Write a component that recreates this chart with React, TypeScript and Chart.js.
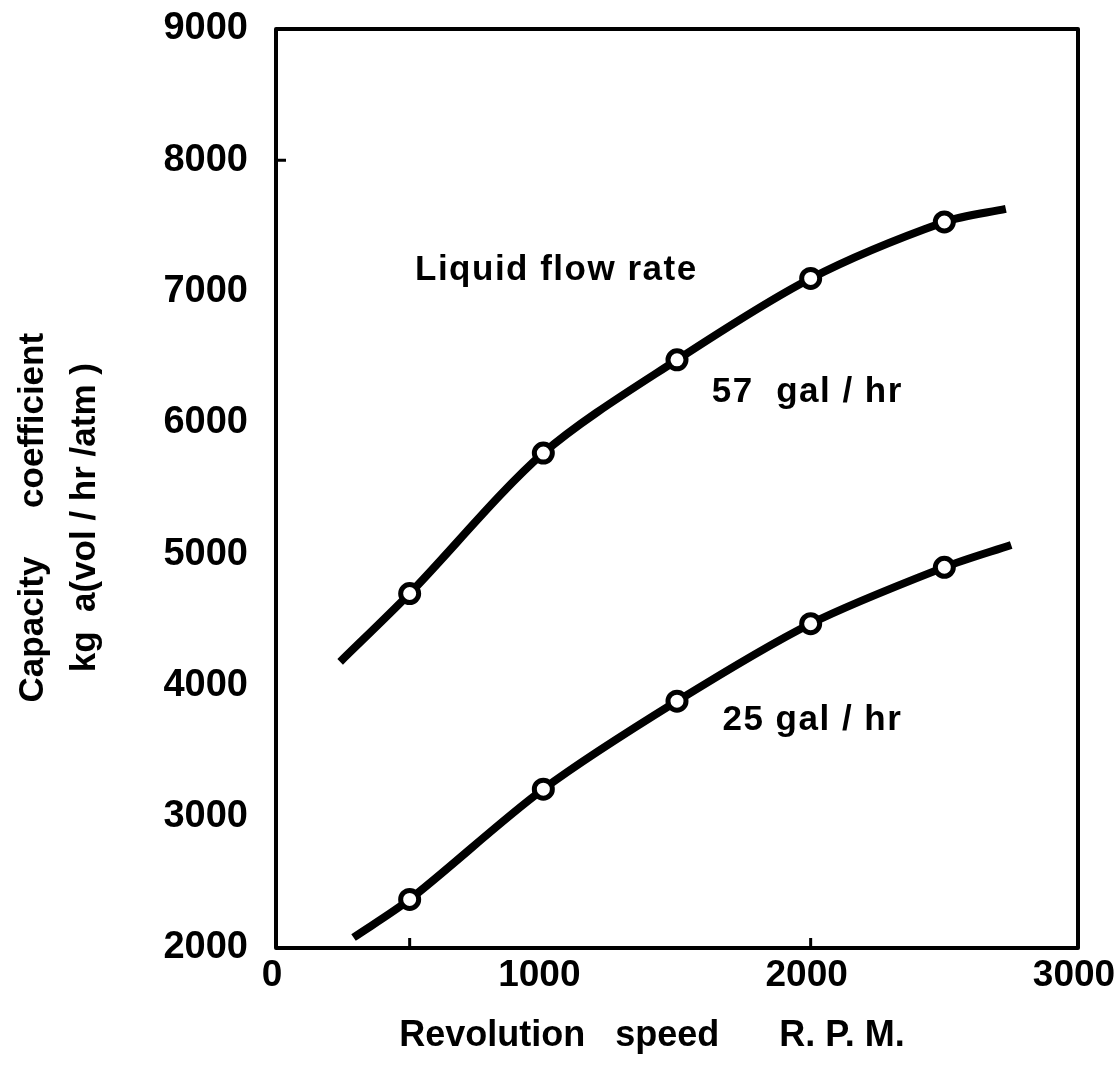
import { useEffect, useRef } from "react";
import { Chart, registerables } from "chart.js";

Chart.register(...registerables);

const FONT = "'Liberation Sans', Arial, sans-serif";

// measured points (RPM vs capacity coefficient)
const rpm = [500, 1000, 1500, 2000, 2500];
const capacity57 = [4700, 5770, 6480, 7100, 7530];
const capacity25 = [2370, 3210, 3880, 4470, 4900];

// ends of the drawn smooth curves [rpm, capacity]
const curve57Start = [240, 4180];
const curve57End = [2730, 7630];
const curve25Start = [290, 2080];
const curve25End = [2750, 5070];

const xTicks = [0, 1000, 2000, 3000];
const yTicks = [2000, 3000, 4000, 5000, 6000, 7000, 8000, 9000];

// small inward tick marks visible on the frame
const xMarks = [500, 2000];
const yMarks = [8000];

const labelTexts = ["Liquid flow rate", "57  gal / hr", "25 gal / hr"];
const labelRpm = [520, 1630, 1670];
const labelCap = [7160, 6235, 3736];

const xTitle = "Revolution   speed      R. P. M.     ";
const yTitle = ["Capacity     coefficient      ", "kg  a(vol / hr /atm )      "];

const toPts = (xs: number[], ys: number[]) => xs.map((x, i) => ({ x, y: ys[i] }));
const curve = (s: number[], xs: number[], ys: number[], e: number[]) => [
  { x: s[0], y: s[1] },
  ...toPts(xs, ys),
  { x: e[0], y: e[1] },
];

const overlay = {
  id: "overlay",
  beforeDatasetsDraw(chart: any) {
    const { ctx, chartArea: a, scales } = chart;
    const x = scales.x;
    const y = scales.y;
    ctx.save();
    ctx.strokeStyle = "#000";
    ctx.lineWidth = 4;
    ctx.lineJoin = "round";
    ctx.strokeRect(a.left, a.top, a.right - a.left, a.bottom - a.top);
    ctx.lineWidth = 3;
    ctx.beginPath();
    xMarks.forEach((v) => {
      const px = x.getPixelForValue(v);
      ctx.moveTo(px, a.bottom);
      ctx.lineTo(px, a.bottom - 10);
    });
    yMarks.forEach((v) => {
      const py = y.getPixelForValue(v);
      ctx.moveTo(a.left, py);
      ctx.lineTo(a.left + 10, py);
    });
    ctx.stroke();
    ctx.restore();
  },
  afterDatasetsDraw(chart: any) {
    const { ctx, scales } = chart;
    ctx.save();
    ctx.fillStyle = "#000";
    ctx.font = `bold 35px ${FONT}`;
    (ctx as any).letterSpacing = "1.5px";
    ctx.textAlign = "left";
    ctx.textBaseline = "middle";
    labelTexts.forEach((t, i) => {
      ctx.fillText(t, scales.x.getPixelForValue(labelRpm[i]), scales.y.getPixelForValue(labelCap[i]));
    });
    ctx.restore();
  },
};

const plainTick = (v: any) => String(v);

export default function App() {
  const ref = useRef<HTMLCanvasElement | null>(null);

  useEffect(() => {
    if (!ref.current) return;
    const lineBase = {
      borderColor: "#000",
      borderWidth: 8,
      pointRadius: 0,
      tension: 0.3,
      fill: false,
      order: 2,
    };
    const markerBase = {
      showLine: false,
      pointRadius: 9,
      pointBorderWidth: 5,
      pointBackgroundColor: "#fff",
      pointBorderColor: "#000",
      borderColor: "#000",
      backgroundColor: "#fff",
      order: 1,
    };
    const chart = new Chart(ref.current, {
      type: "line",
      data: {
        datasets: [
          { ...lineBase, label: "57 gal/hr curve", data: curve(curve57Start, rpm, capacity57, curve57End) },
          { ...lineBase, label: "25 gal/hr curve", data: curve(curve25Start, rpm, capacity25, curve25End) },
          { ...markerBase, label: "57 gal/hr", data: toPts(rpm, capacity57) },
          { ...markerBase, label: "25 gal/hr", data: toPts(rpm, capacity25) },
        ],
      },
      options: {
        responsive: false,
        animation: false,
        layout: { padding: { top: 29, right: 39, left: 0, bottom: 0 } },
        plugins: { legend: { display: false }, tooltip: { enabled: false } },
        scales: {
          x: {
            type: "linear",
            min: 0,
            max: 3000,
            afterBuildTicks: (s: any) => {
              s.ticks = xTicks.map((v) => ({ value: v }));
            },
            afterFit: (s: any) => {
              s.height = 119;
              s.paddingLeft = 0;
              s.paddingRight = 0;
            },
            grid: { display: false, drawTicks: false },
            border: { display: false },
            ticks: {
              color: "#000",
              padding: 6,
              maxRotation: 0,
              autoSkip: false,
              labelOffset: -4,
              callback: plainTick,
              font: { family: FONT, size: 37, weight: "bold" },
            },
            title: {
              display: true,
              text: xTitle,
              color: "#000",
              font: { family: FONT, size: 36, weight: "bold", lineHeight: 1.2 },
              padding: { top: 0, bottom: 9 },
            },
          },
          y: {
            type: "linear",
            min: 2000,
            max: 9000,
            afterBuildTicks: (s: any) => {
              s.ticks = yTicks.map((v) => ({ value: v }));
            },
            afterFit: (s: any) => {
              s.width = 276;
              s.paddingTop = 0;
              s.paddingBottom = 0;
            },
            grid: { display: false, drawTicks: false },
            border: { display: false },
            ticks: {
              color: "#000",
              padding: 28,
              autoSkip: false,
              callback: plainTick,
              font: { family: FONT, size: 38, weight: "bold" },
            },
            title: {
              display: true,
              text: yTitle,
              color: "#000",
              font: { family: FONT, size: 35, weight: "bold", lineHeight: 1.5 },
              padding: { top: 7, bottom: 0 },
            },
          },
        },
      },
      plugins: [overlay],
    } as any);
    return () => chart.destroy();
  }, []);

  return (
    <div style={{ position: "absolute", left: 0, top: 0, width: 1117, height: 1067, background: "#fff" }}>
      <canvas ref={ref} width={1117} height={1067} style={{ display: "block" }} />
    </div>
  );
}
